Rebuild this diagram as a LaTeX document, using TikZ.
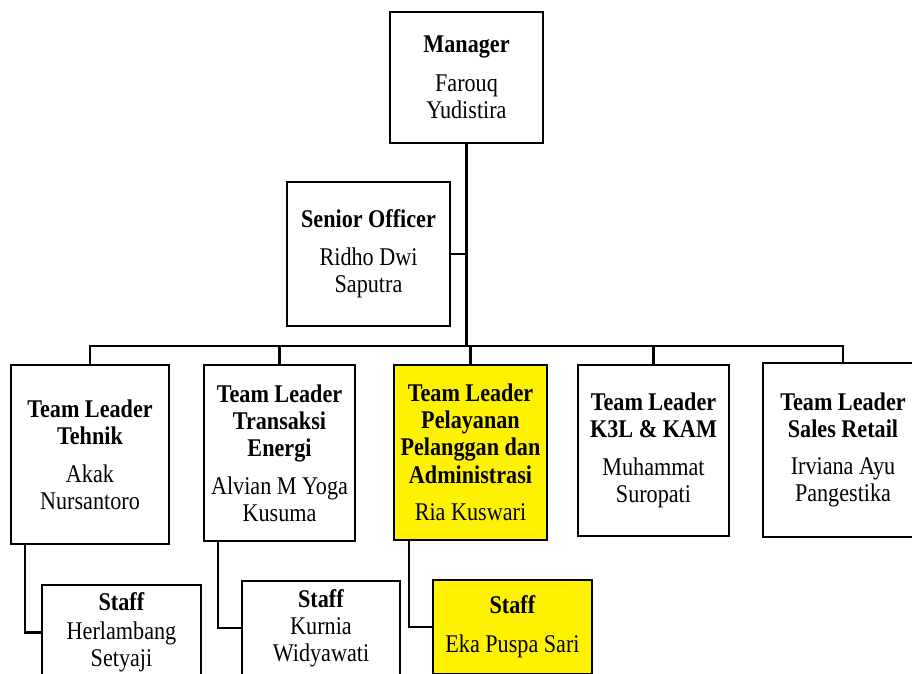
\documentclass[tikz,border=0pt]{standalone}
\usepackage{fontspec}
\setmainfont{Liberation Serif}[FakeStretch=0.87]

\tikzset{
  box/.style={draw, line width=1.3pt, align=center, inner sep=0pt,
    font=\fontsize{14.5}{15.4}\selectfont},
  hibox/.style={box, fill=yellow},
  link/.style={line width=1.5pt},
}

\begin{document}
\begin{tikzpicture}[x=0.02cm, y=-0.02cm]
  \useasboundingbox (0,0) rectangle (912,673);
  \clip (0,0) rectangle (912,673);
  % top
  \node[box, minimum width=3.06cm, minimum height=2.62cm] (mgr) at (466.5,77.5)
    {\textbf{Manager}\\[7pt] Farouq\\Yudistira};
  \node[box, minimum width=3.26cm, minimum height=2.88cm] (so) at (368.5,254)
    {\textbf{Senior Officer}\\[6pt] Ridho Dwi\\Saputra};
  \coordinate (bus) at (466.5,346);
  % team leaders
  \node[box, minimum width=3.16cm, minimum height=3.58cm] (tl1) at (90,454.5)
    {\textbf{Team Leader}\\\textbf{Tehnik}\\[6pt] Akak\\Nursantoro};
  \node[box, minimum width=3.02cm, minimum height=3.52cm] (tl2) at (279.5,453)
    {\textbf{Team Leader}\\\textbf{Transaksi}\\\textbf{Energi}\\[6pt] Alvian M Yoga\\Kusuma};
  \node[hibox, minimum width=3.06cm, minimum height=3.5cm] (tl3) at (470.5,452.5)
    {\textbf{Team Leader}\\\textbf{Pelayanan}\\\textbf{Pelanggan dan}\\\textbf{Administrasi}\\[6pt] Ria Kuswari};
  \node[box, minimum width=3.02cm, minimum height=3.42cm] (tl4) at (653.5,450.5)
    {\textbf{Team Leader}\\\textbf{K3L \& KAM}\\[6pt] Muhammat\\Suropati};
  \node[box, minimum width=3.2cm, minimum height=3.48cm] (tl5) at (843,450)
    {\textbf{Team Leader}\\\textbf{Sales Retail}\\[6pt] Irviana Ayu\\Pangestika};
  % staff
  \node[box, minimum width=3.18cm, minimum height=1.9cm] (st1) at (121.5,632.5)
    {\textbf{Staff}\\[1pt] Herlambang\\Setyaji};
  \node[box, minimum width=3.16cm, minimum height=1.88cm] (st2) at (321,628)
    {\textbf{Staff}\\ Kurnia\\Widyawati};
  \node[hibox, minimum width=3.18cm, minimum height=1.88cm] (st3) at (512.5,627)
    {\textbf{Staff}\\[7pt] Eka Puspa Sari};
  \draw[link]
    (mgr.south) -- (bus)
    (so.east) -- (so.east -| bus)
    (tl1.north) |- (bus) -| (tl5.north)
    (tl2.north) -- (tl2.north |- bus)
    (tl3.north) -- (tl3.north |- bus)
    (tl4.north) -- (tl4.north |- bus)
    ([xshift=0.3cm]tl1.south west) |- (st1.west)
    ([xshift=0.3cm]tl2.south west) |- (st2.west)
    ([xshift=0.32cm]tl3.south west) |- (st3.west);
\end{tikzpicture}
\end{document}
